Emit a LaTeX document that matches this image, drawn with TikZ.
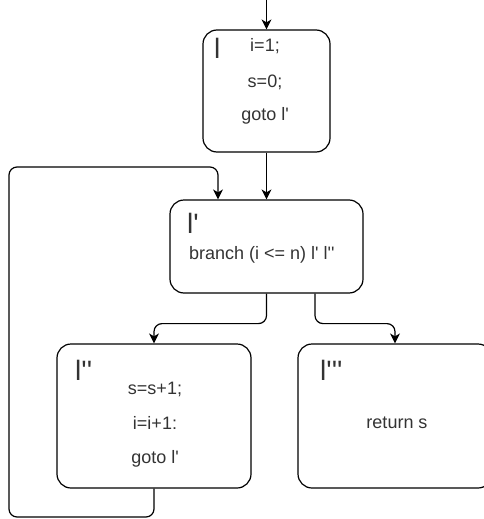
\documentclass[tikz,border=0pt]{standalone}
\usepackage{fontspec}
\setmainfont{Liberation Sans}
\usetikzlibrary{arrows.meta}
\newcommand\qq{\textquotesingle}
\begin{document}
\begin{tikzpicture}[x=1pt,y=-1pt,
  box/.style={draw, line width=1.2pt, rounded corners=14pt, inner sep=0pt},
  conn/.style={line width=1.2pt, rounded corners=8pt, -{Stealth[length=10pt,width=10pt,inset=3pt]}},
  txt/.style={font=\fontsize{18}{20}\selectfont, text=black!80, inner sep=0pt, anchor=base},
  lab/.style={font=\fontsize{28}{30}\selectfont, text=black!80, inner sep=0pt, anchor=base west}]
\useasboundingbox (0,0) rectangle (484,519);
% boxes
\node[box, minimum width=127pt, minimum height=122pt] (A) at (266.5,91) {};
\node[box, minimum width=193pt, minimum height=93pt] (B) at (266.5,246.5) {};
\node[box, minimum width=194pt, minimum height=144pt] (C) at (154,416) {};
\node[box, minimum width=194pt, minimum height=144pt] (D) at (395,416) {};
% texts
\node[lab] (Al) at (214,59) {l};
\node[txt] (A1) at (265,52) {i=1;};
\node[txt] (A2) at (265,87) {s=0;};
\node[txt] (A3) at (265,120) {goto l\qq};
\node[lab] (Bl) at (187,233) {l\qq};
\node[txt, anchor=base west] (B1) at (189,259) {branch (i <= n) l\qq{} l\qq\qq};
\node[lab] (Cl) at (75,380) {l\qq\qq};
\node[txt] (C1) at (155,394) {s=s+1;};
\node[txt] (C2) at (155,429) {i=i+1:};
\node[txt] (C3) at (155,463) {goto l\qq};
\node[lab] (Dl) at (320,380) {l\qq\qq\qq};
\node[txt] (D1) at (397,428) {return s};
% connectors
\coordinate (start) at (266.5,0);
\coordinate (lb) at (9,517);
\coordinate (lt) at (9,167);
\draw[conn] (start) -- (A.north);
\draw[conn] (A.south) -- (B.north);
\draw[conn] (B.south) -- ++(0,30) -| (C.north);
\draw[conn] ([xshift=48.5pt]B.south) -- ++(0,30) -| (D.north);
\draw[conn] (C.south) |- (lb) -- (lt) -| ([xshift=-48.5pt]B.north);
\end{tikzpicture}
\end{document}
